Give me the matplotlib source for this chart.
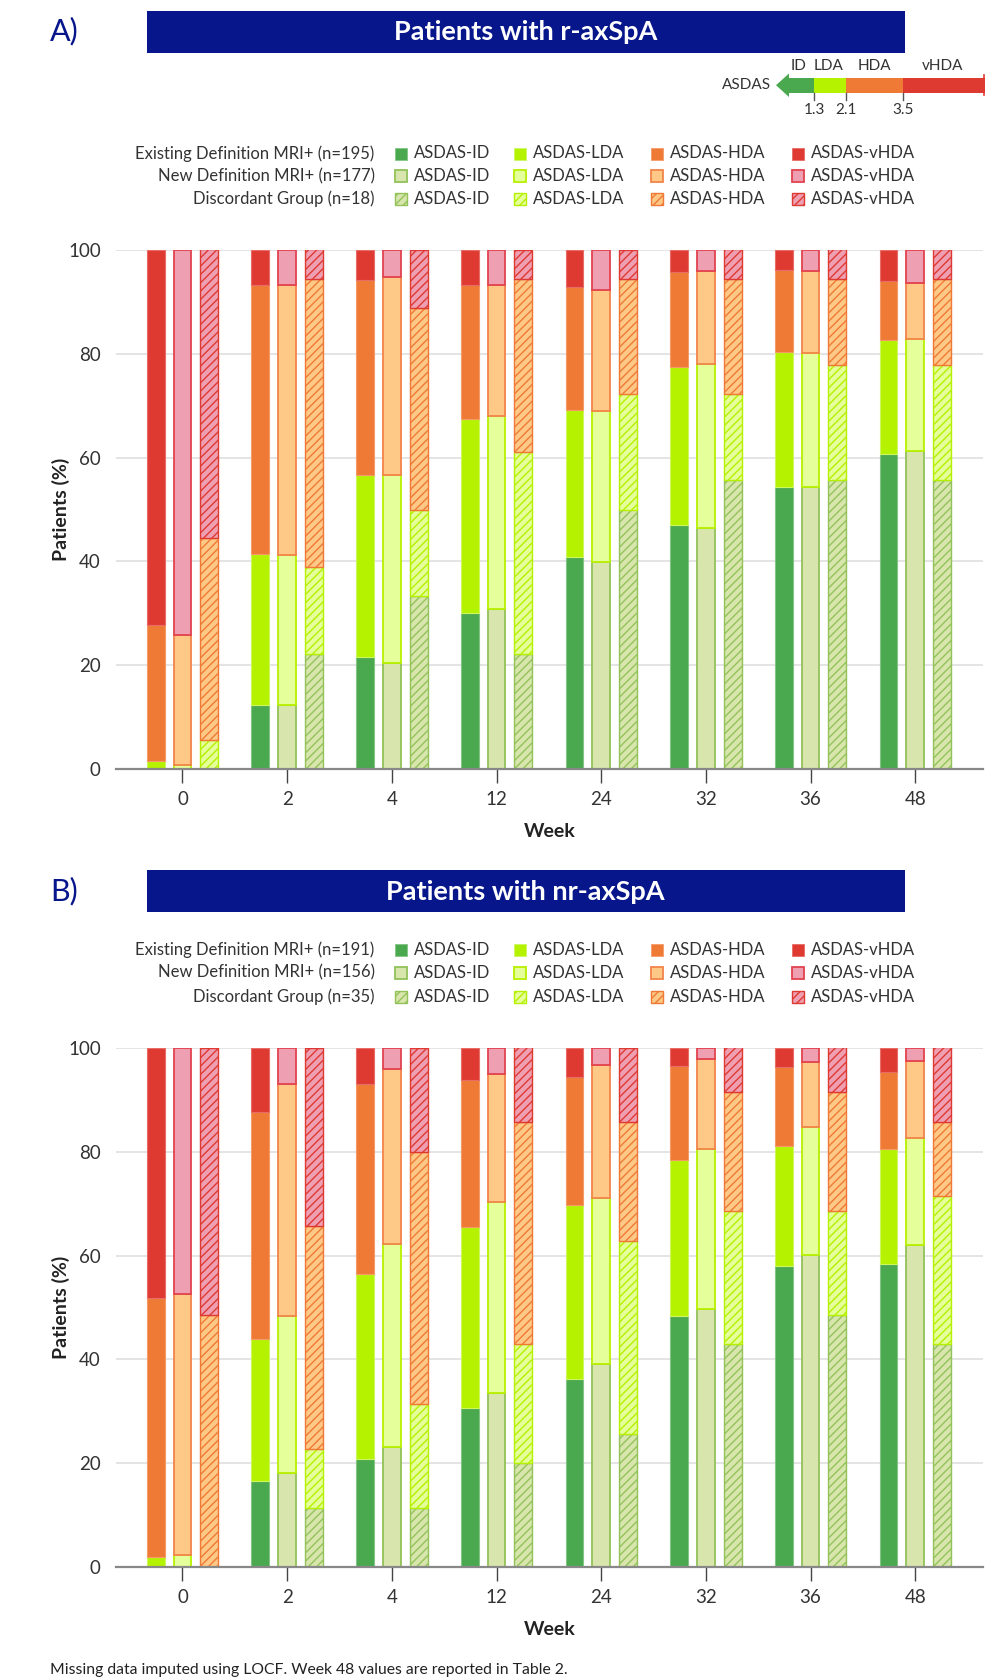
import matplotlib
matplotlib.use("Agg")
import matplotlib.pyplot as plt
from matplotlib.patches import Rectangle, Polygon
import numpy as np

plt.rcParams['font.family'] = ['Lato', 'DejaVu Sans']
plt.rcParams['hatch.linewidth'] = 1.0

# ---------------- data ----------------
weeks = ["0", "2", "4", "12", "24", "32", "36", "48"]
categories = ["ASDAS-ID", "ASDAS-LDA", "ASDAS-HDA", "ASDAS-vHDA"]
scale_labels = ["ID", "LDA", "HDA", "vHDA"]
scale_cuts = ["1.3", "2.1", "3.5"]

# Panel A: r-axSpA (percent of patients per ASDAS category)
groups_a = ["Existing Definition MRI+ (n=195)", "New Definition MRI+ (n=177)", "Discordant Group (n=18)"]
a_exist_id   = [0.0, 12.4, 21.6, 30.0, 40.8, 47.0, 54.3, 60.6]
a_exist_lda  = [1.5, 29.1, 35.1, 37.5, 28.3, 30.5, 26.1, 22.0]
a_exist_hda  = [26.2, 51.7, 37.5, 25.7, 23.8, 18.2, 15.8, 11.5]
a_exist_vhda = [72.3, 6.8, 5.8, 6.8, 7.1, 4.3, 3.8, 5.9]
a_new_id   = [0.0, 12.3, 20.4, 30.9, 39.9, 46.4, 54.3, 61.2]
a_new_lda  = [0.7, 29.0, 36.2, 37.2, 29.0, 31.6, 25.8, 21.6]
a_new_hda  = [25.2, 51.9, 38.2, 25.1, 23.3, 18.0, 15.9, 10.8]
a_new_vhda = [74.1, 6.8, 5.2, 6.8, 7.8, 4.0, 4.0, 6.4]
a_disc_id   = [0.0, 22.2, 33.3, 22.2, 50.0, 55.6, 55.6, 55.6]
a_disc_lda  = [5.6, 16.7, 16.7, 38.9, 22.2, 16.7, 22.2, 22.2]
a_disc_hda  = [38.9, 55.6, 38.9, 33.3, 22.2, 22.2, 16.7, 16.7]
a_disc_vhda = [55.6, 5.6, 11.1, 5.6, 5.6, 5.6, 5.6, 5.6]

# Panel B: nr-axSpA
groups_b = ["Existing Definition MRI+ (n=191)", "New Definition MRI+ (n=156)", "Discordant Group (n=35)"]
b_exist_id   = [0.0, 16.5, 20.8, 30.6, 36.2, 48.4, 57.9, 58.3]
b_exist_lda  = [1.9, 27.4, 35.7, 35.0, 33.5, 30.1, 23.3, 22.3]
b_exist_hda  = [50.0, 43.8, 36.5, 28.2, 24.7, 18.1, 15.2, 14.7]
b_exist_vhda = [48.1, 12.3, 7.0, 6.2, 5.6, 3.4, 3.6, 4.7]
b_new_id   = [0.0, 18.1, 23.2, 33.5, 39.1, 49.8, 60.1, 62.0]
b_new_lda  = [2.3, 30.3, 39.1, 36.8, 32.0, 30.8, 24.6, 20.7]
b_new_hda  = [50.3, 44.7, 33.7, 24.7, 25.7, 17.3, 12.6, 14.8]
b_new_vhda = [47.4, 6.9, 4.0, 5.0, 3.2, 2.1, 2.7, 2.5]
b_disc_id   = [0.0, 11.4, 11.4, 20.0, 25.7, 42.9, 48.6, 42.9]
b_disc_lda  = [0.0, 11.4, 20.0, 22.9, 37.1, 25.7, 20.0, 28.6]
b_disc_hda  = [48.6, 42.9, 48.6, 42.9, 22.9, 22.9, 22.9, 14.3]
b_disc_vhda = [51.4, 34.3, 20.0, 14.3, 14.3, 8.6, 8.6, 14.3]

# ---------------- styles ----------------
EXIST_FILL = ['#4aa84f', '#b5f200', '#ef7a36', '#de3a32']
EXIST_EDGE = ['#82c585', '#cdf760', '#f49b68', '#e86d66']
NEW_FILL = ['#d8e5ad', '#e5ff9a', '#fec887', '#ef9fb2']
NEW_EDGE = ['#92c259', '#b8f000', '#f2844a', '#e2434f']
DISC_HATCH = ['#92c259', '#b5f000', '#ef7a36', '#de3a32']
NAVY = '#07168b'
TXT = '#333333'

W, H = 985, 1678
fig = plt.figure(figsize=(W / 100, H / 100), dpi=100)
ov = fig.add_axes([0, 0, 1, 1])
ov.set_xlim(0, W)
ov.set_ylim(H, 0)
ov.axis('off')


def fa(l, t, r, b):
    return [l / W, 1 - b / H, (r - l) / W, (b - t) / H]


group_styles = [
    (EXIST_FILL, EXIST_EDGE, None, 0.8),
    (NEW_FILL, NEW_EDGE, None, 1.3),
    (NEW_FILL, DISC_HATCH, '////', 1.0),
]


def header(letter, title, top):
    ov.text(50, top + 21, letter, color=NAVY, fontsize=22, ha='left', va='center')
    ov.add_patch(Rectangle((146.7, top), 758, 42, facecolor=NAVY, edgecolor='none'))
    ov.text(525.7, top + 21.5, title, color='white', fontsize=19.5, fontweight='bold',
            ha='center', va='center')


def legend(groups, rows_y):
    col_patch_x = [395, 514, 651, 792]
    for g, (gl, y) in enumerate(zip(groups, rows_y)):
        ov.text(374.5, y, gl, ha='right', va='center', fontsize=12, color=TXT)
        fills, edges, hatch, lw = group_styles[g]
        for c in range(4):
            ov.add_patch(Rectangle((col_patch_x[c], y - 6), 12, 12, facecolor=fills[c],
                                   edgecolor=edges[c], lw=lw if g else 0.6, hatch=hatch))
            ov.text(col_patch_x[c] + 19, y, categories[c], ha='left', va='center',
                    fontsize=12, color=TXT)


def panel(rect, series):
    ax = fig.add_axes(rect)
    x = np.arange(len(weeks))
    offsets = [-0.256, 0.0, 0.256]
    width = 0.17
    for g, vals in enumerate(series):
        fills, edges, hatch, lw = group_styles[g]
        bottom = np.zeros(len(weeks))
        for c in range(4):
            v = np.array(vals[c])
            ax.bar(x + offsets[g], v, width, bottom=bottom, color=fills[c],
                   edgecolor=edges[c], linewidth=lw, hatch=hatch, zorder=2)
            bottom = bottom + v
    ax.set_xlim(-0.635, 7.647)
    ax.set_ylim(0, 100)
    ax.set_yticks([0, 20, 40, 60, 80, 100])
    ax.set_xticks(x)
    ax.set_xticklabels(weeks)
    ax.grid(axis='y', color='#e2e2e2', lw=1.3, zorder=0)
    ax.set_axisbelow(True)
    for s in ['top', 'right', 'left']:
        ax.spines[s].set_visible(False)
    ax.spines['bottom'].set_color('#888888')
    ax.spines['bottom'].set_linewidth(1.6)
    ax.spines['bottom'].set_zorder(3)
    ax.tick_params(axis='y', length=0, pad=11, labelsize=13.5, labelcolor=TXT)
    ax.tick_params(axis='x', length=10, width=1, color='#444444', pad=6,
                   labelsize=13.5, labelcolor=TXT)
    ax.set_ylabel("Patients (%)", fontsize=14, fontweight='bold', color='#222222')
    ax.yaxis.set_label_coords(-0.053, 0.5)
    ax.set_xlabel("Week", fontsize=14, fontweight='bold', color='#222222')
    ax.xaxis.set_label_coords(0.5, -0.104)
    return ax


# ---------------- Panel A ----------------
header("A)", "Patients with r-axSpA", 10.5)

# ASDAS scale
ov.add_patch(Polygon([(776, 85.2), (789, 73.5), (789, 97)], closed=True,
                     facecolor=EXIST_FILL[0], edgecolor='none'))
seg_x = [786, 814, 846, 903, 985]
for c in range(4):
    ov.add_patch(Rectangle((seg_x[c], 77.7), seg_x[c + 1] - seg_x[c], 15,
                           facecolor=EXIST_FILL[c], edgecolor='none'))
ov.plot([984, 984], [75, 95], color=EXIST_FILL[3], lw=1.2)
for lab, xc in zip(scale_labels, [799, 829, 874, 943]):
    ov.text(xc, 65.5, lab, ha='center', va='center', fontsize=11, color=TXT)
for lab, xc in zip(scale_cuts, [814, 846, 903]):
    ov.plot([xc, xc], [92.7, 99.5], color='#555555', lw=1)
    ov.text(xc, 110, lab, ha='center', va='center', fontsize=11, color=TXT)
ov.text(771.5, 85, "ASDAS", ha='right', va='center', fontsize=11, color=TXT)

legend(groups_a, [153.5, 176, 198.5])
panel(fa(116, 250, 983, 769), [
    [a_exist_id, a_exist_lda, a_exist_hda, a_exist_vhda],
    [a_new_id, a_new_lda, a_new_hda, a_new_vhda],
    [a_disc_id, a_disc_lda, a_disc_hda, a_disc_vhda],
])

# ---------------- Panel B ----------------
header("B)", "Patients with nr-axSpA", 870)
legend(groups_b, [950, 972.5, 996.5])
panel(fa(116, 1048, 983, 1567), [
    [b_exist_id, b_exist_lda, b_exist_hda, b_exist_vhda],
    [b_new_id, b_new_lda, b_new_hda, b_new_vhda],
    [b_disc_id, b_disc_lda, b_disc_hda, b_disc_vhda],
])

ov.text(50, 1670, "Missing data imputed using LOCF. Week 48 values are reported in Table 2.",
        ha='left', va='center', fontsize=11.3, color='#222222')

fig.savefig("out.png", dpi=100)
